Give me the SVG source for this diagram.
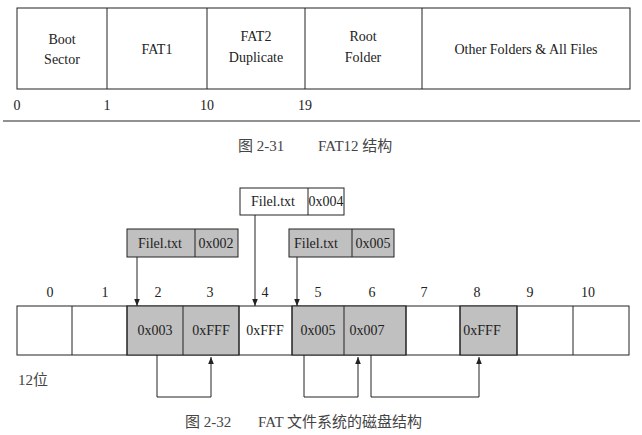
<svg xmlns="http://www.w3.org/2000/svg" width="642" height="435" viewBox="0 0 642 435">
<defs>
<style>
text{font-family:"Liberation Serif","Times New Roman","DejaVu Serif",serif;font-size:14px;fill:#222;text-anchor:middle}
.c{font-family:"Liberation Serif","Noto Sans CJK SC",serif;font-size:15px;fill:#444;text-anchor:start}
.b{fill:#fff;stroke:#222;stroke-width:1}
.g{fill:#c0c0c0;stroke:#222;stroke-width:1}
.l{fill:none;stroke:#222;stroke-width:1}
</style>
<marker id="a" viewBox="0 0 10 10" refX="10" refY="5" markerWidth="7" markerHeight="7" orient="auto"><path d="M0,1L10,5L0,9z" fill="#222"/></marker>
</defs>
<rect width="642" height="435" fill="#fff"/>
<g id="fat12">
<rect class="b" x="17" y="8" width="613" height="81"/>
<path class="l" d="M107,8V89M207,8V89M305,8V89M422,8V89"/>
<text x="62" y="44">Boot</text><text x="62" y="64">Sector</text>
<text x="157" y="54">FAT1</text>
<text x="256" y="41">FAT2</text><text x="256" y="62">Duplicate</text>
<text x="363" y="41">Root</text><text x="363" y="62">Folder</text>
<text x="526" y="54">Other Folders &amp; All Files</text>
<text x="17" y="110">0</text><text x="107" y="110">1</text><text x="207" y="110">10</text><text x="305" y="110">19</text>
<path class="l" d="M3,121H640"/>
<text class="c" x="238" y="151">图 2-31</text><text class="c" x="318" y="151">FAT12 结构</text>
</g>
<g id="cells">
<rect class="b" x="17" y="306" width="612" height="49"/>
<rect class="g" x="127" y="306" width="112" height="49"/>
<rect class="g" x="292" y="306" width="114" height="49"/>
<rect class="g" x="460" y="306" width="57" height="49"/>
<path class="l" d="M72,306V355M127,306V355M183,306V355M239,306V355M292,306V355M344,306V355M406,306V355M460,306V355M517,306V355M573,306V355"/>
<text x="50" y="297">0</text><text x="105" y="297">1</text><text x="158" y="297">2</text><text x="210" y="297">3</text><text x="265" y="297">4</text><text x="318" y="297">5</text><text x="372" y="297">6</text><text x="424" y="297">7</text><text x="477" y="297">8</text><text x="530" y="297">9</text><text x="588" y="297">10</text>
<text x="155" y="335">0x003</text><text x="211" y="335">0xFFF</text><text x="265" y="335">0xFFF</text><text x="318" y="335">0x005</text><text x="367" y="335">0x007</text><text x="482" y="335">0xFFF</text>
<text class="c" x="18" y="385">12位</text>
</g>
<g id="entry1"><rect class="g" x="127" y="229" width="111" height="28"/><path class="l" d="M195,229V257"/><text x="160" y="248">Filel.txt</text><text x="216" y="248">0x002</text></g>
<g id="entry2"><rect class="b" x="240" y="188" width="104" height="27"/><path class="l" d="M308,188V215"/><text x="273" y="206">Filel.txt</text><text x="326" y="206">0x004</text></g>
<g id="entry3"><rect class="g" x="289" y="229" width="105" height="28"/><path class="l" d="M352,229V257"/><text x="316" y="248">Filel.txt</text><text x="373" y="248">0x005</text></g>
<g id="connectors">
<path class="l" marker-end="url(#a)" d="M137,257V306"/>
<path class="l" marker-end="url(#a)" d="M255,215V306"/>
<path class="l" marker-end="url(#a)" d="M297,257V306"/>
<path class="l" marker-end="url(#a)" d="M157,355V397H211V357"/>
<path class="l" marker-end="url(#a)" d="M304,355V397H358V357"/>
<path class="l" marker-end="url(#a)" d="M371,355V397H479V357"/>
</g>
<text class="c" x="185" y="427">图 2-32</text><text class="c" x="258" y="427">FAT 文件系统的磁盘结构</text>
</svg>
